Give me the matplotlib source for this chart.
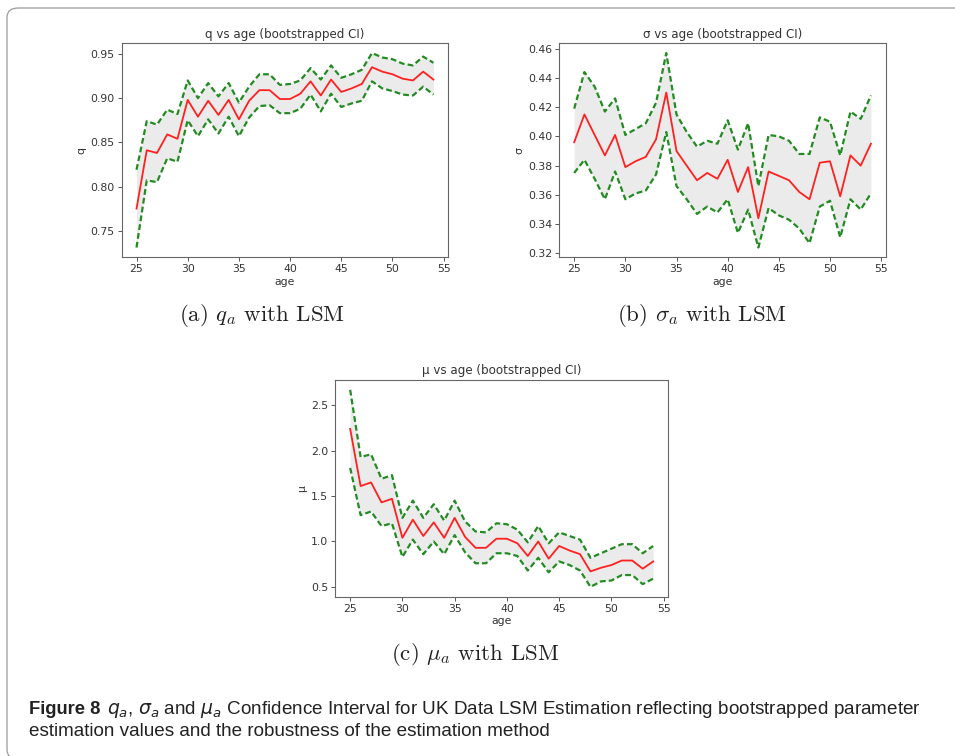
import matplotlib
matplotlib.use("Agg")
import matplotlib.pyplot as plt
from matplotlib.patches import FancyBboxPatch

# ---------- data ----------
ages = list(range(25, 55))

q_mean = [0.775, 0.841, 0.838, 0.859, 0.854, 0.898, 0.879, 0.897, 0.881, 0.898,
          0.876, 0.897, 0.909, 0.909, 0.899, 0.899, 0.905, 0.919, 0.903, 0.921,
          0.907, 0.911, 0.916, 0.935, 0.930, 0.927, 0.922, 0.920, 0.930, 0.921]
q_upper = [0.819, 0.874, 0.870, 0.887, 0.882, 0.920, 0.900, 0.917, 0.902, 0.917,
           0.895, 0.913, 0.927, 0.927, 0.915, 0.916, 0.920, 0.934, 0.921, 0.937,
           0.923, 0.927, 0.932, 0.951, 0.946, 0.944, 0.939, 0.937, 0.947, 0.940]
q_lower = [0.731, 0.807, 0.805, 0.832, 0.828, 0.875, 0.857, 0.876, 0.860, 0.879,
           0.857, 0.878, 0.891, 0.892, 0.883, 0.883, 0.888, 0.904, 0.885, 0.905,
           0.890, 0.894, 0.897, 0.919, 0.911, 0.908, 0.904, 0.903, 0.913, 0.904]

sigma_mean = [0.396, 0.415, 0.401, 0.387, 0.401, 0.379, 0.383, 0.386, 0.398, 0.430,
              0.390, 0.380, 0.370, 0.375, 0.371, 0.384, 0.362, 0.379, 0.344, 0.376,
              0.373, 0.370, 0.362, 0.357, 0.382, 0.383, 0.359, 0.387, 0.380, 0.395]
sigma_upper = [0.419, 0.444, 0.434, 0.417, 0.426, 0.401, 0.405, 0.409, 0.423, 0.457,
               0.415, 0.403, 0.393, 0.397, 0.395, 0.411, 0.391, 0.409, 0.366, 0.401,
               0.400, 0.397, 0.388, 0.388, 0.413, 0.410, 0.387, 0.417, 0.412, 0.428]
sigma_lower = [0.375, 0.384, 0.371, 0.357, 0.376, 0.357, 0.361, 0.363, 0.374, 0.403,
               0.366, 0.357, 0.347, 0.352, 0.348, 0.357, 0.334, 0.350, 0.324, 0.351,
               0.346, 0.343, 0.337, 0.327, 0.352, 0.356, 0.331, 0.357, 0.350, 0.361]

mu_mean = [2.24, 1.61, 1.65, 1.43, 1.47, 1.04, 1.24, 1.06, 1.21, 1.04,
           1.26, 1.05, 0.93, 0.93, 1.03, 1.03, 0.98, 0.84, 1.00, 0.81,
           0.95, 0.90, 0.86, 0.67, 0.71, 0.74, 0.79, 0.79, 0.70, 0.78]
mu_upper = [2.67, 1.93, 1.96, 1.69, 1.73, 1.26, 1.45, 1.26, 1.41, 1.23,
            1.45, 1.22, 1.11, 1.10, 1.20, 1.19, 1.13, 0.99, 1.17, 0.98,
            1.10, 1.06, 1.02, 0.82, 0.87, 0.92, 0.97, 0.97, 0.87, 0.95]
mu_lower = [1.81, 1.29, 1.33, 1.17, 1.20, 0.83, 1.02, 0.86, 1.00, 0.86,
            1.07, 0.88, 0.76, 0.76, 0.87, 0.87, 0.84, 0.68, 0.82, 0.66,
            0.78, 0.74, 0.68, 0.50, 0.56, 0.57, 0.63, 0.63, 0.53, 0.59]

panels = [
    # (name shown in title/ylabel, mean, upper, lower, axes rect)
    ("q", q_mean, q_upper, q_lower, [0.1274, 0.6597, 0.3420, 0.2830]),
    ("σ", sigma_mean, sigma_upper, sigma_lower, [0.5857, 0.6597, 0.3418, 0.2830]),
    ("μ", mu_mean, mu_upper, mu_lower, [0.3508, 0.2107, 0.3490, 0.2867]),
]

subcaptions = [
    (262 / 955, 0.583, r"(a) $q_a$ with LSM"),
    (702 / 955, 0.583, r"(b) $\sigma_a$ with LSM"),
    (475 / 955, 0.1336, r"(c) $\mu_a$ with LSM"),
]

# ---------- figure ----------
fig = plt.figure(figsize=(9.55, 7.56), dpi=100)

text_col = "#333333"
green = "#228b22"
for name, mean, upper, lower, rect in panels:
    ax = fig.add_axes(rect)
    ax.fill_between(ages, lower, upper, color="#ebebeb", lw=0)
    ax.plot(ages, mean, color="#ff2020", lw=1.3)
    ax.plot(ages, upper, color=green, lw=1.6, ls=(0, (2.6, 1.4)))
    ax.plot(ages, lower, color=green, lw=1.6, ls=(0, (2.6, 1.4)))
    ax.set_xticks([25, 30, 35, 40, 45, 50, 55])
    ax.set_title(f"{name} vs age (bootstrapped CI)", fontsize=8.6, color=text_col, pad=4)
    ax.set_xlabel("age", fontsize=7.8, color=text_col, labelpad=2)
    ax.set_ylabel(name, fontsize=7.8, color=text_col, labelpad=3)
    ax.tick_params(labelsize=7.8, labelcolor=text_col, length=3, width=0.7,
                   color="#555555", pad=2)
    for sp in ax.spines.values():
        sp.set_color("#666666")
        sp.set_linewidth(0.8)

for x, y, s in subcaptions:
    fig.text(x, y, s, ha="center", va="center", fontsize=16.5,
             family="cmr10", math_fontfamily="cm", color="#222222")

# caption: bold "Figure 8" followed by the normal text
cap_font = "Liberation Sans"
y1 = 1 - 710 / 756
y2 = 1 - 731 / 756
t1 = fig.text(29 / 955, y1, "Figure 8", fontsize=13.2, weight="bold",
              family=cap_font, va="center", color="#222222")
fig.canvas.draw()
bb = t1.get_window_extent()
x_next = (bb.x1 + 6) / 955
fig.text(x_next, y1,
         r"$q_a$, $\sigma_a$ and $\mu_a$ Confidence Interval for UK Data LSM Estimation "
         "reflecting bootstrapped parameter",
         fontsize=13.6, family=cap_font, va="center", color="#222222")
fig.text(29 / 955, y2,
         "estimation values and the robustness of the estimation method",
         fontsize=13.6, family=cap_font, va="center", color="#222222")

# thin rounded frame around the figure (runs off the right and bottom edges)
frame = FancyBboxPatch((7 / 955, -3 / 756), 1.2, 1 - 5 / 756,
                       boxstyle="round,pad=0,rounding_size=0.012",
                       transform=fig.transFigure, fill=False,
                       edgecolor="#9a9a9a", lw=0.9)
fig.add_artist(frame)

fig.savefig("out.png", dpi=100)
